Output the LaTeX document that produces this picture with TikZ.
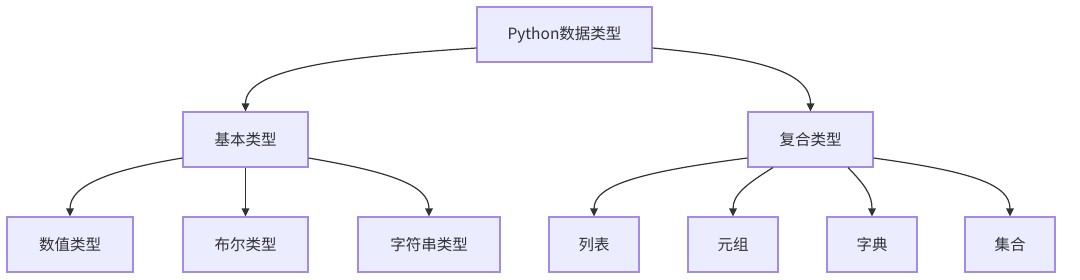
\documentclass[tikz,border=0pt]{standalone}
\usepackage{fontspec}
\setmainfont{Noto Sans CJK SC}
\usetikzlibrary{arrows.meta}
\definecolor{boxfill}{HTML}{ECECFF}
\definecolor{boxline}{HTML}{A58BE6}
\definecolor{txt}{HTML}{333333}
\begin{document}
\begin{tikzpicture}[x=1pt,y=-1pt,
  box/.style={draw=boxline, fill=boxfill, line width=1.1pt, minimum height=55pt, inner sep=0pt,
    text=txt, font=\fontsize{15.5}{18}\selectfont},
  link/.style={draw=txt, line width=1.2pt, -{Triangle[length=8pt,width=7.5pt]}}]
\useasboundingbox (0,0) rectangle (1080,279);
\fill[white] (0,0) rectangle (1080,279);
\node[box, minimum width=175pt] (root) at (564.5,34.5) {Python数据类型};
\node[box, minimum width=125pt] (basic) at (245.5,139.5) {基本类型};
\node[box, minimum width=125pt] (comp) at (810.5,139.5) {复合类型};
\node[box, minimum width=126pt] (num) at (70,244.5) {数值类型};
\node[box, minimum width=125pt] (bool) at (245.5,244.5) {布尔类型};
\node[box, minimum width=142pt] (str) at (429,244.5) {字符串类型};
\node[box, minimum width=90pt] (list) at (594,244.5) {列表};
\node[box, minimum width=90pt] (tup) at (733,244.5) {元组};
\node[box, minimum width=90pt] (dict) at (872,244.5) {字典};
\node[box, minimum width=90pt] (set) at (1010,244.5) {集合};
% root edges
\draw[link] ([yshift=-13.5pt]root.west) .. controls (320,58) and (245.5,72) .. (basic.north);
\draw[link] ([yshift=-13.5pt]root.east) .. controls (760,58) and (810.5,72) .. (comp.north);
% basic edges
\draw[link] ([yshift=-18.5pt]basic.west) .. controls (110,170) and (70,185) .. (num.north);
\draw[link] (basic.south) -- (bool.north);
\draw[link] ([yshift=-18.5pt]basic.east) .. controls (390,172) and (429,185) .. (str.north);
% composite edges
\draw[link] ([yshift=-18.5pt]comp.west) .. controls (640,172) and (594,185) .. (list.north);
\draw[link] ([xshift=-37.5pt]comp.south) .. controls (745,185) and (733,195) .. (tup.north);
\draw[link] ([xshift=37.5pt]comp.south) .. controls (865,185) and (872,195) .. (dict.north);
\draw[link] ([yshift=-18.5pt]comp.east) .. controls (975,172) and (1010,185) .. (set.north);
\end{tikzpicture}
\end{document}
